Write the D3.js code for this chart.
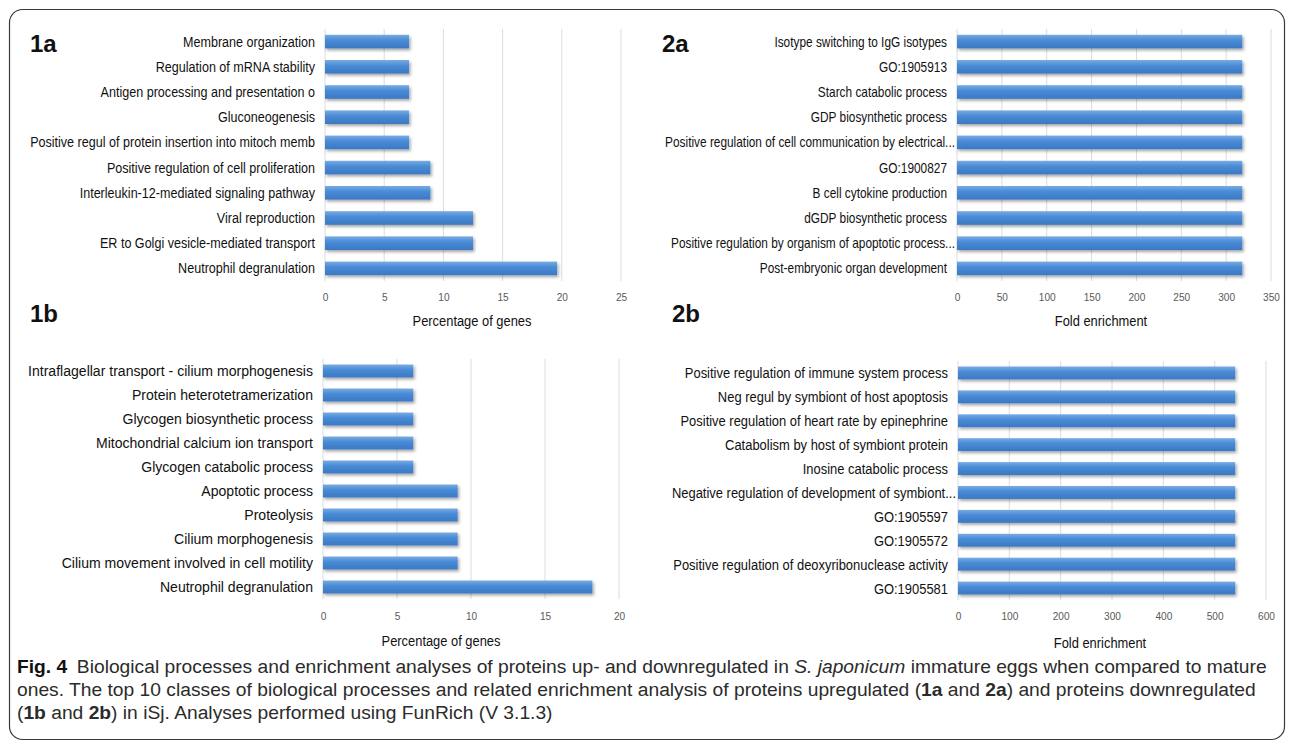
<!DOCTYPE html>
<html><head><meta charset="utf-8">
<script src="https://cdn.jsdelivr.net/npm/d3@7"></script>
<style>
html,body{margin:0;padding:0;background:#fff;}
svg{display:block;}
.cat{font-family:"Liberation Sans",Arial,sans-serif;fill:#111;}
.tick text{font-family:"Liberation Sans",Arial,sans-serif;fill:#595959;}
.atitle{font-family:"Liberation Sans",Arial,sans-serif;fill:#111;}
.plab{font-family:"Liberation Sans",Arial,sans-serif;font-weight:bold;fill:#111;}
.cap{font-family:"Liberation Sans",Arial,sans-serif;fill:#2b2b2b;}
</style></head>
<body>
<svg id="chart" width="1293" height="745"></svg>
<script>
// ---------- data ----------
const cats1a = ["Membrane organization","Regulation of mRNA stability","Antigen processing and presentation o","Gluconeogenesis","Positive regul of protein insertion into mitoch memb","Positive regulation of cell proliferation","Interleukin-12-mediated signaling pathway","Viral reproduction","ER to Golgi vesicle-mediated transport","Neutrophil degranulation"];
const vals1a = [7.1,7.1,7.1,7.1,7.1,8.9,8.9,12.5,12.5,19.6];
const ticks1a = [0,5,10,15,20,25];

const cats2a = ["Isotype switching to IgG isotypes","GO:1905913","Starch catabolic process","GDP biosynthetic process","Positive regulation of cell communication by electrical...","GO:1900827","B cell cytokine production","dGDP biosynthetic process","Positive regulation by organism of apoptotic process...","Post-embryonic organ development"];
const vals2a = [318,318,318,318,318,318,318,318,318,318];
const ticks2a = [0,50,100,150,200,250,300,350];

const cats1b = ["Intraflagellar transport - cilium morphogenesis","Protein heterotetramerization","Glycogen biosynthetic process","Mitochondrial calcium ion transport","Glycogen catabolic process","Apoptotic process","Proteolysis","Cilium morphogenesis","Cilium movement involved in cell motility","Neutrophil degranulation"];
const vals1b = [6.1,6.1,6.1,6.1,6.1,9.1,9.1,9.1,9.1,18.2];
const ticks1b = [0,5,10,15,20];

const cats2b = ["Positive regulation of immune system process","Neg regul by symbiont of host apoptosis","Positive regulation of heart rate by epinephrine","Catabolism by host of symbiont protein","Inosine catabolic process","Negative regulation of development of symbiont...","GO:1905597","GO:1905572","Positive regulation of deoxyribonuclease activity","GO:1905581"];
const vals2b = [540,540,540,540,540,540,540,540,540,540];
const ticks2b = [0,100,200,300,400,500,600];

const axisTitles = {pct:"Percentage of genes", fold:"Fold enrichment"};

// ---------- layout ----------
const panels = [
  {id:"1a", cats:cats1a, vals:vals1a, ticks:ticks1a, title:axisTitles.pct,
   x0:325, x1:621, y0:29, y1:281, fs:14, labW:285, labX:30, labY:52, tickY:302, titleX:472, titleY:326},
  {id:"2a", cats:cats2a, vals:vals2a, ticks:ticks2a, title:axisTitles.fold,
   x0:957, x1:1271, y0:29, y1:281, fs:14, labW:290, labX:662, labY:52, tickY:302, titleX:1101, titleY:326},
  {id:"1b", cats:cats1b, vals:vals1b, ticks:ticks1b, title:axisTitles.pct,
   x0:323, x1:619, y0:359, y1:599, fs:15.2, labW:285, labX:30, labY:322, tickY:621, titleX:441, titleY:646},
  {id:"2b", cats:cats2b, vals:vals2b, ticks:ticks2b, title:axisTitles.fold,
   x0:958, x1:1266, y0:361, y1:600, fs:15.2, labW:284, labX:672, labY:322, tickY:621, titleX:1100, titleY:648}
];

const svg = d3.select("#chart");
const defs = svg.append("defs");
const grad = defs.append("linearGradient").attr("id","barGrad").attr("x1",0).attr("y1",0).attr("x2",0).attr("y2",1);
grad.append("stop").attr("offset","0%").attr("stop-color","#78ace3");
grad.append("stop").attr("offset","40%").attr("stop-color","#4a8bd6");
grad.append("stop").attr("offset","100%").attr("stop-color","#3b78c4");
const filt = defs.append("filter").attr("id","shadow").attr("x","-5%").attr("y","-30%").attr("width","115%").attr("height","190%");
filt.append("feDropShadow").attr("dx",1.5).attr("dy",2).attr("stdDeviation",1.4).attr("flood-color","#000").attr("flood-opacity",0.35);

// border
svg.append("rect").attr("x",9.5).attr("y",9.5).attr("width",1275).attr("height",730)
  .attr("rx",13).attr("fill","none").attr("stroke","#3a3a3a").attr("stroke-width",1.2);

panels.forEach(p => {
  const g = svg.append("g");
  const x = d3.scaleLinear().domain([p.ticks[0], p.ticks[p.ticks.length-1]]).range([p.x0, p.x1]);
  const y = d3.scaleBand().domain(p.cats).range([p.y0, p.y1]).paddingInner(0.46).paddingOuter(0.23);

  // gridlines
  g.append("g").selectAll("line").data(p.ticks).join("line")
    .attr("x1", d => x(d)).attr("x2", d => x(d))
    .attr("y1", p.y0).attr("y2", p.y1)
    .attr("stroke","#dcdcdc").attr("stroke-width",1);

  // bars
  g.append("g").selectAll("rect").data(p.cats).join("rect")
    .attr("x", x(0)).attr("y", (d) => y(d))
    .attr("width", (d,i) => x(p.vals[i]) - x(0))
    .attr("height", y.bandwidth())
    .attr("fill","url(#barGrad)")
    .attr("filter","url(#shadow)");

  // category labels (condensed by horizontal scaling to mimic Arial Narrow)
  const labs = g.append("g").selectAll("text").data(p.cats).join("text")
    .attr("class","cat")
    .attr("x", 0).attr("y", 0)
    .attr("dy","0.36em").attr("text-anchor","end")
    .style("font-size", p.fs + "px")
    .text(d => d);
  let maxW = 0;
  labs.each(function(){ maxW = Math.max(maxW, this.getComputedTextLength()); });
  const s = p.labW / maxW;
  labs.attr("transform", d => {
    const ax = d.endsWith("...") ? p.x0 - 2 : p.x0 - 10;
    return `translate(${ax},${y(d) + y.bandwidth()/2}) scale(${s},1)`;
  });

  // axis tick labels
  const ax = d3.axisBottom(x).tickValues(p.ticks).tickSize(0).tickPadding(0).tickFormat(d3.format("d"));
  const axg = g.append("g").attr("transform", `translate(0,${p.tickY - 9})`).call(ax);
  axg.select(".domain").remove();
  axg.selectAll(".tick text").style("font-size","11.5px").attr("dy","0.71em")
    .attr("transform","scale(0.88,1)");

  // axis title
  g.append("text").attr("class","atitle")
    .attr("transform", `translate(${p.titleX},${p.titleY}) scale(0.86,1)`)
    .attr("text-anchor","middle").style("font-size","15px").text(p.title);

  // panel label
  g.append("text").attr("class","plab").attr("x", p.labX).attr("y", p.labY)
    .style("font-size","24px").text(p.id);
});

// caption (condensed via measured horizontal scale so line 1 spans the figure width)
const capW = 1251;
const cap = svg.append("g").attr("class","cap").style("font-size","18.5px");
const l1 = cap.append("text").attr("x",0).attr("y",673);
l1.append("tspan").style("font-weight","bold").attr("fill","#111").text("Fig. 4");
l1.append("tspan").text("\u2002Biological processes and enrichment analyses of proteins up- and downregulated in ");
l1.append("tspan").style("font-style","italic").text("S. japonicum");
l1.append("tspan").text(" immature eggs when compared to mature");
const l2 = cap.append("text").attr("x",0).attr("y",696);
l2.append("tspan").text("ones. The top 10 classes of biological processes and related enrichment analysis of proteins upregulated (");
l2.append("tspan").style("font-weight","bold").text("1a");
l2.append("tspan").text(" and ");
l2.append("tspan").style("font-weight","bold").text("2a");
l2.append("tspan").text(") and proteins downregulated");
const l3 = cap.append("text").attr("x",0).attr("y",719);
l3.append("tspan").text("(");
l3.append("tspan").style("font-weight","bold").text("1b");
l3.append("tspan").text(" and ");
l3.append("tspan").style("font-weight","bold").text("2b");
l3.append("tspan").text(") in iSj. Analyses performed using FunRich (V 3.1.3)");
const w1 = l1.node().getComputedTextLength();
cap.attr("transform", `translate(17,0) scale(${capW / w1},1)`);
</script>
</body></html>
